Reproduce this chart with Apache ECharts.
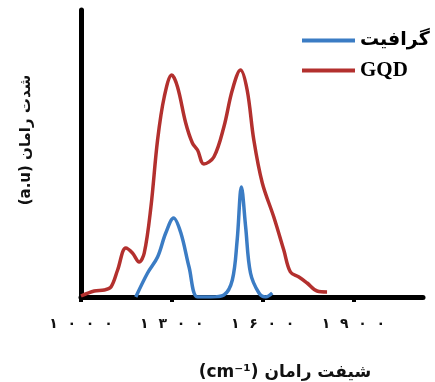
<!DOCTYPE html>
<html>
<head>
<meta charset="utf-8">
<script src="https://cdn.jsdelivr.net/npm/echarts@6/dist/echarts.min.js"></script>
<style>html,body{margin:0;padding:0;background:#fff;}#c{width:435px;height:382px;}</style>
</head>
<body>
<div id="c"></div>
<script>
// Raman shift (cm-1) and intensity (a.u.)
const gqdShift = [1000,1044,1077,1099,1121,1148,1170,1192,1209,1231,1253,1275,1300,1319,1346,1368,1385,1406,1439,1472,1500,1527,1549,1571,1599,1637,1670,1692,1720,1747,1780,1813];
const gqdIntensity = [1,6,7,10,27,49,44,35,44,90,157,200,222,210,174,154,147,133,140,170,207,227,207,157,114,80,47,25,20,14,6,5];
const graphiteShift = [1181,1220,1253,1280,1306,1330,1357,1385,1429,1472,1500,1516,1530,1544,1560,1588,1610,1632];
const graphiteIntensity = [0,24,40,64,79,64,30,0,0,2,17,57,110,70,24,4,0,4];
const tickValues = [1000,1300,1600,1900];
const tickLabels = ['۱۰۰۰','۱۳۰۰','۱۶۰۰','۱۹۰۰'];
const seriesNames = ['گرافیت','GQD'];
const xTitle = 'شیفت رامان (cm⁻¹)';
const yTitle = 'شدت رامان (a.u)';

const blue = '#3b7cc4';
const red = '#b3302e';
const rtl = s => '\u202B' + s + '\u202C';

const chart = echarts.init(document.getElementById('c'));
chart.setOption({
  animation: false,
  backgroundColor: '#fff',
  grid: {left: 81, right: 12, top: 10, bottom: 85},
  xAxis: {
    type: 'value', min: 1000, max: 2130, offset: 3,
    splitLine: {show: false},
    axisLine: {lineStyle: {color: '#000', width: 5}},
    axisTick: {customValues: tickValues, length: 5, lineStyle: {color: '#000', width: 4}},
    axisLabel: {
      customValues: tickValues, margin: 17,
      color: '#111', fontSize: 14, fontWeight: 'bold', fontFamily: 'DejaVu Sans',
      formatter: v => {
        const i = tickValues.indexOf(v);
        return i < 0 ? '' : tickLabels[i].split('').join('  ');
      }
    }
  },
  yAxis: {
    type: 'value', min: 0, max: 287,
    splitLine: {show: false},
    axisLine: {show: true, lineStyle: {color: '#000', width: 5}},
    axisTick: {show: false},
    axisLabel: {show: false}
  },
  legend: {
    orient: 'vertical', left: 297, top: 26, itemGap: 10,
    itemWidth: 53, itemHeight: 18,
    data: seriesNames.map(n => ({name: n, icon: 'path://M0,0 L53,0 L53,4 L0,4 Z'})),
    formatter: n => /[A-Za-z]/.test(n) ? '{a|' + n + '}' : '{b|' + n + '}',
    textStyle: {
      color: '#000', fontWeight: 'bold', fontSize: 17,
      rich: {
        a: {fontFamily: 'Liberation Serif', fontWeight: 'bold', fontSize: 21, color: '#000'},
        b: {fontFamily: 'DejaVu Sans', fontWeight: 'bold', fontSize: 19, color: '#000'}
      }
    }
  },
  graphic: [
    {type: 'text', x: 26, y: 140, rotation: Math.PI / 2,
     style: {text: rtl(yTitle), align: 'center', verticalAlign: 'middle', fill: '#111', font: 'bold 15px DejaVu Sans'}},
    {type: 'text', x: 285, y: 373,
     style: {text: rtl(xTitle), align: 'center', verticalAlign: 'middle', fill: '#111', font: 'bold 17px DejaVu Sans'}}
  ],
  series: [
    {name: seriesNames[0], type: 'line', smooth: 0.35, symbol: 'none', z: 4,
     lineStyle: {color: blue, width: 3.5}, itemStyle: {color: blue},
     data: graphiteShift.map((x, i) => [x, graphiteIntensity[i]])},
    {name: seriesNames[1], type: 'line', smooth: 0.35, symbol: 'none', z: 3,
     lineStyle: {color: red, width: 3.5}, itemStyle: {color: red},
     data: gqdShift.map((x, i) => [x, gqdIntensity[i]])}
  ]
});
</script>
</body>
</html>
